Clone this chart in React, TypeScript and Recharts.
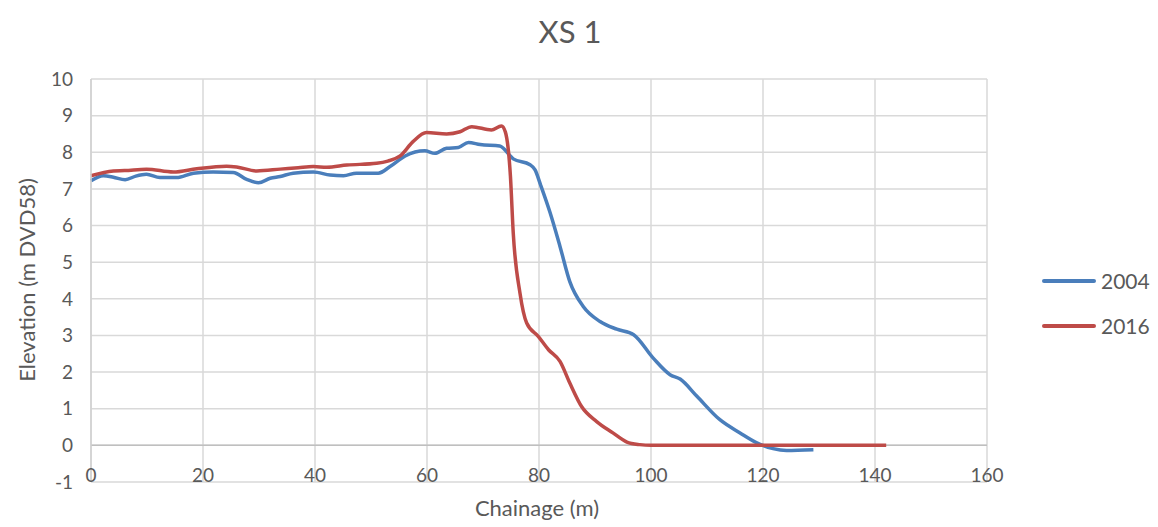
import React from "react";
import { LineChart, Line, XAxis, YAxis, CartesianGrid, ReferenceLine } from "recharts";

const x2004 = [0, 2.2, 4, 6.1, 8, 9.9, 12.3, 15.3, 18.3, 21.8, 25.4, 27.8, 29.9, 32, 33.8, 36.1, 39.7, 42.7, 45.1, 47.4, 51.3, 53.4, 56.1, 59.6, 61.4, 63.5, 65.6, 67.4, 69.5, 73, 75.4, 78.4, 79.3, 80.3, 82, 83.75, 85.5, 87.9, 90.9, 93.9, 96.9, 100.4, 103.4, 105.2, 108.2, 112.3, 115.9, 118.9, 121.8, 124.2, 129];
const y2004 = [7.22, 7.36, 7.32, 7.25, 7.35, 7.4, 7.31, 7.31, 7.43, 7.46, 7.45, 7.26, 7.17, 7.29, 7.34, 7.43, 7.46, 7.38, 7.36, 7.43, 7.43, 7.61, 7.9, 8.04, 7.97, 8.11, 8.13, 8.27, 8.21, 8.17, 7.82, 7.66, 7.52, 7.1, 6.34, 5.43, 4.47, 3.79, 3.38, 3.17, 3.02, 2.38, 1.93, 1.81, 1.34, 0.7, 0.34, 0.07, -0.09, -0.14, -0.12];

const x2016 = [0, 4, 6, 9.9, 14.7, 18.9, 24.2, 26, 29.6, 33.8, 37, 39.7, 42.1, 45.7, 51, 53, 55.2, 57.5, 59.9, 63.5, 65.9, 68, 71.5, 73.3, 74, 74.9, 75.4, 76.6, 77.8, 79.9, 81.7, 83.75, 85.5, 87.6, 90.3, 93.2, 95.7, 98, 100, 120, 142];
const y2016 = [7.36, 7.49, 7.5, 7.54, 7.46, 7.55, 7.62, 7.6, 7.49, 7.54, 7.58, 7.61, 7.59, 7.65, 7.7, 7.76, 7.9, 8.29, 8.54, 8.5, 8.56, 8.7, 8.61, 8.72, 8.55, 7.34, 5.8, 4.16, 3.34, 2.97, 2.61, 2.29, 1.7, 1.06, 0.65, 0.34, 0.09, 0.02, 0, 0, 0];

const xTicks = [0, 20, 40, 60, 80, 100, 120, 140, 160];
const yTicks = [-1, 0, 1, 2, 3, 4, 5, 6, 7, 8, 9, 10];

const series = [
  { name: "2004", color: "#4A7EBB", data: x2004.map((x, i) => ({ x, y: y2004[i] })) },
  { name: "2016", color: "#BE4B48", data: x2016.map((x, i) => ({ x, y: y2016[i] })) },
];

const FONT = "Lato, 'Open Sans', sans-serif";
const TXT = "#595959";

const XTick = (props: any) => {
  const { x, payload } = props;
  return (
    <text x={x} y={474} textAnchor="middle" fill={TXT} fontSize={19} fontFamily={FONT}>
      {payload.value}
    </text>
  );
};

export default function App() {
  return (
    <div style={{ position: "relative", width: 1150, height: 519, fontFamily: FONT, color: TXT }}>
      <div style={{ position: "absolute", left: 0, width: 1124, top: 4, textAlign: "center", fontSize: 31 }}>
        XS 1
      </div>
      <div
        style={{
          position: "absolute",
          left: 19 - 150,
          top: 272 - 15,
          width: 300,
          height: 30,
          lineHeight: "30px",
          textAlign: "center",
          fontSize: 22,
          transform: "rotate(-90deg)",
        }}
      >
        Elevation (m DVD58)
      </div>
      <div style={{ position: "absolute", left: 379, width: 300, top: 486, textAlign: "center", fontSize: 22 }}>
        Chainage (m)
      </div>
      <div style={{ position: "absolute", left: 1034, top: 250, fontSize: 21 }}>
        {series.map((s) => (
          <div key={s.name} style={{ display: "flex", alignItems: "center", height: 45 }}>
            <div style={{ width: 54, height: 4, background: s.color, borderRadius: 2, marginRight: 5 }} />
            <span>{s.name}</span>
          </div>
        ))}
      </div>
      <LineChart width={1150} height={519} margin={{ top: 71, right: 171, left: 0, bottom: 0 }}>
        <CartesianGrid stroke="#D9D9D9" strokeWidth={1.5} />
        <XAxis
          type="number"
          dataKey="x"
          domain={[0, 160]}
          ticks={xTicks}
          interval={0}
          axisLine={false}
          tickLine={false}
          height={45}
          tick={<XTick />}
          allowDuplicatedCategory={false}
        />
        <YAxis
          type="number"
          domain={[-1, 10]}
          ticks={yTicks}
          interval={0}
          width={83}
          axisLine={{ stroke: "#D0D0D0", strokeWidth: 1.5 }}
          tickLine={false}
          tickMargin={12}
          tick={{ fill: TXT, fontSize: 19, fontFamily: FONT }}
        />
        <ReferenceLine y={0} stroke="#BFBFBF" strokeWidth={1.5} />
        {series.map((s) => (
          <Line
            key={s.name}
            data={s.data}
            dataKey="y"
            name={s.name}
            type="monotone"
            stroke={s.color}
            strokeWidth={3.5}
            dot={false}
            isAnimationActive={false}
          />
        ))}
      </LineChart>
    </div>
  );
}
